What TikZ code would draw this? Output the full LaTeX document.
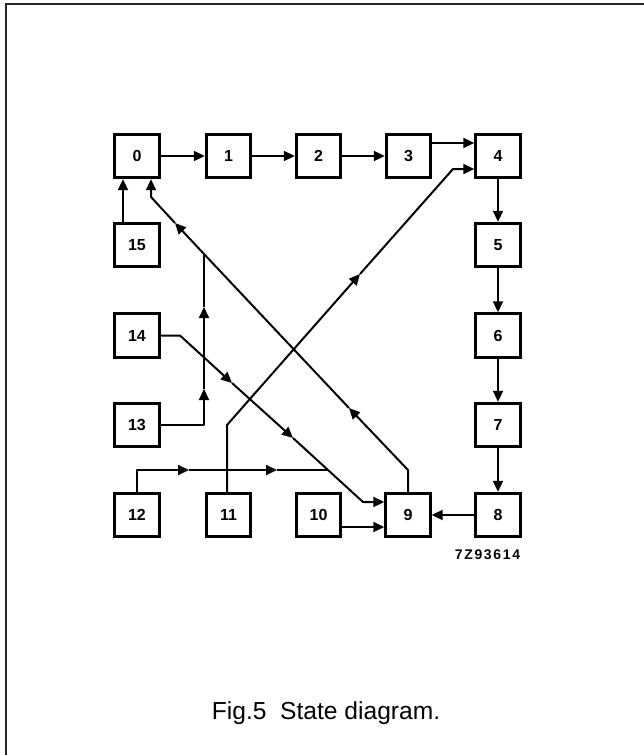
\documentclass[tikz,border=0pt]{standalone}
\usepackage{fontspec}
\setmainfont{Liberation Sans}
\usetikzlibrary{arrows.meta}
\tikzset{
  box/.style={draw, line width=2.9bp, minimum width=44.5bp, minimum height=43.5bp, inner sep=0pt,
    font=\fontsize{16bp}{18bp}\selectfont\bfseries},
  wire/.style={line width=2bp, line join=round},
  arr/.style={-{Triangle[length=11bp,width=10bp]}},
  framestyle/.style={line width=2bp, draw=black!85}
}
\begin{document}
\begin{tikzpicture}[x=1bp,y=-1bp]
\useasboundingbox (0,0) rectangle (644,755);
\draw[framestyle] (6,755) -- (6,4.2) -- (644,4.2);

\node[box] (n0) at (137,156) {0};
\node[box] (n1) at (228.5,156) {1};
\node[box] (n2) at (318.5,156) {2};
\node[box] (n3) at (408.5,156) {3};
\node[box] (n4) at (498,156) {4};
\node[box] (n5) at (498,245) {5};
\node[box] (n6) at (498,335.5) {6};
\node[box] (n7) at (498,425) {7};
\node[box] (n8) at (498,515) {8};
\node[box] (n9) at (408,515) {9};
\node[box] (n10) at (318.5,515) {10};
\node[box] (n11) at (228.5,515) {11};
\node[box] (n12) at (137,515) {12};
\node[box] (n13) at (137,425) {13};
\node[box] (n14) at (137,335.5) {14};
\node[box] (n15) at (137,245) {15};

% straight transitions
\draw[wire,arr] (n0) -- (n1);
\draw[wire,arr] (n1) -- (n2);
\draw[wire,arr] (n2) -- (n3);
\draw[wire,arr] ([yshift=13bp]n3.east) -- ([yshift=13bp]n4.west);
\draw[wire,arr] (n4) -- (n5);
\draw[wire,arr] (n5) -- (n6);
\draw[wire,arr] (n6) -- (n7);
\draw[wire,arr] (n7) -- (n8);
\draw[wire,arr] (n8) -- (n9);
\draw[wire,arr] ([yshift=-12bp]n10.east) -- ([yshift=-12bp]n9.west);
\draw[wire,arr] ([xshift=-14bp]n15.north) -- ([xshift=-14bp]n0.south);

% 9 -> 0
\coordinate (b9) at (408,470);
\coordinate (m9a) at (349,408);
\coordinate (j13) at (204,254);
\coordinate (m9b) at (175,223);
\coordinate (b0) at (151,197);
\draw[wire,arr] (n9.north) -- (b9) -- (m9a);
\draw[wire,arr] (m9a) -- (j13) -- (m9b);
\draw[wire,arr] (m9b) -- (b0) -- (b0 |- n0.south);

% 13 -> joins 9->0
\coordinate (c13) at (204,425);
\coordinate (m13a) at (204,389);
\coordinate (m13b) at (204,307);
\draw[wire,arr] (n13.east) -- (c13) -- (m13a);
\draw[wire,arr] (m13a) -- (m13b);
\draw[wire] (m13b) -- (j13);

% 14 -> 9
\coordinate (c14) at (180,335.5);
\coordinate (m14a) at (232,383);
\coordinate (m14b) at (293,438);
\coordinate (j12) at (328,470);
\coordinate (e14) at (363,502);
\draw[wire,arr] (n14.east) -- (c14) -- (m14a);
\draw[wire,arr] (m14a) -- (m14b);
\draw[wire,arr] (m14b) -- (e14) -- (e14 -| n9.west);

% 12 -> joins 14->9
\coordinate (c12) at (137,470);
\coordinate (m12a) at (189,470);
\coordinate (m12b) at (277,470);
\draw[wire,arr] (n12.north) -- (c12) -- (m12a);
\draw[wire,arr] (m12a) -- (m12b);
\draw[wire] (m12b) -- (j12);

% 11 -> 4
\coordinate (c11) at (227,425);
\coordinate (m11) at (360,274);
\coordinate (e11) at (453,169);
\draw[wire,arr] (c11 |- n11.north) -- (c11) -- (m11);
\draw[wire,arr] (m11) -- (e11) -- (e11 -| n4.west);

\node[anchor=base, inner sep=0pt, font=\fontsize{14bp}{16bp}\selectfont\bfseries\addfontfeature{LetterSpace=12}] (code) at (487.5,559.3) {7Z93614};
\node[anchor=base, inner sep=0pt, font=\fontsize{24.6bp}{29bp}\selectfont] (cap) at (326,719.3) {Fig.5\ \ State diagram.};
\end{tikzpicture}
\end{document}
